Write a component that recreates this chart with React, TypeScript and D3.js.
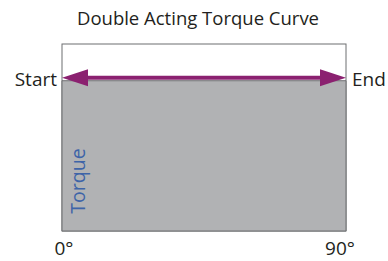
import React, { useEffect, useRef } from 'react';
import * as d3 from 'd3';

// stroke angle (degrees) and relative torque output
const angles = [0, 90];
const torque = [1, 1];
const angleLabels = ['0°', '90°'];
const strokeLabels = ['Start', 'End'];
const title = 'Double Acting Torque Curve';
const yLabel = 'Torque';

const W = 388;
const H = 261;

export default function App() {
	const ref = useRef<SVGSVGElement>(null);

	useEffect(() => {
		const svg = d3.select(ref.current);
		svg.selectAll('*').remove();

		const font = "'Open Sans', 'Noto Sans', sans-serif";
		const x = d3.scaleLinear().domain([0, 90]).range([62, 346]);
		const y = d3.scaleLinear().domain([0, 1.22]).range([231, 44]);

		// frame
		svg.append('rect')
			.attr('x', x(0))
			.attr('y', y(1.22))
			.attr('width', x(90) - x(0))
			.attr('height', y(0) - y(1.22))
			.attr('fill', 'white')
			.attr('stroke', '#6d6e71')
			.attr('stroke-width', 1);

		const pts = angles.map((a, i) => [a, torque[i]] as [number, number]);
		const area = d3.area<[number, number]>()
			.x(d => x(d[0]))
			.y0(y(0))
			.y1(d => y(d[1]) + 3);
		svg.append('path')
			.attr('d', area(pts))
			.attr('fill', '#b1b2b4')
			.attr('stroke', '#6d6e71')
			.attr('stroke-width', 1);

		// double arrow
		const ay = y(torque[0]);
		const x0 = x(angles[0]);
		const x1 = x(angles[1]);
		const hl = 26;
		const hw = 8.5;
		const purple = '#8b2170';
		svg.append('line')
			.attr('x1', x0 + hl - 2)
			.attr('x2', x1 - hl + 2)
			.attr('y1', ay)
			.attr('y2', ay)
			.attr('stroke', purple)
			.attr('stroke-width', 4);
		svg.append('path')
			.attr('d', `M${x0},${ay} L${x0 + hl},${ay - hw} L${x0 + hl},${ay + hw} Z`)
			.attr('fill', purple);
		svg.append('path')
			.attr('d', `M${x1},${ay} L${x1 - hl},${ay - hw} L${x1 - hl},${ay + hw} Z`)
			.attr('fill', purple);

		// title
		svg.append('text')
			.attr('x', 198)
			.attr('y', 25)
			.attr('text-anchor', 'middle')
			.attr('font-family', font)
			.attr('font-size', '18.5px')
			.attr('fill', '#231f20')
			.text(title);

		svg.append('text')
			.attr('x', x0 - 5)
			.attr('y', ay + 8)
			.attr('text-anchor', 'end')
			.attr('font-family', font)
			.attr('font-size', '19px')
			.attr('fill', '#231f20')
			.text(strokeLabels[0]);
		svg.append('text')
			.attr('x', x1 + 6)
			.attr('y', ay + 8)
			.attr('text-anchor', 'start')
			.attr('font-family', font)
			.attr('font-size', '19px')
			.attr('fill', '#231f20')
			.text(strokeLabels[1]);

		svg.selectAll('text.tick')
			.data(angles)
			.enter()
			.append('text')
			.attr('class', 'tick')
			.attr('x', d => x(d) + (d === 0 ? 2 : -6))
			.attr('y', 255)
			.attr('text-anchor', 'middle')
			.attr('font-family', font)
			.attr('font-size', '19px')
			.attr('fill', '#231f20')
			.text((d, i) => angleLabels[i]);

		svg.append('text')
			.attr('transform', `translate(85,181) rotate(-90)`)
			.attr('text-anchor', 'middle')
			.attr('font-family', font)
			.attr('font-size', '19.5px')
			.attr('fill', '#3e64a8')
			.text(yLabel);
	}, []);

	return (
		<svg ref={ref} width={W} height={H}
			style={{ position: 'absolute', left: 0, top: 0, background: 'white' }} />
	);
}
